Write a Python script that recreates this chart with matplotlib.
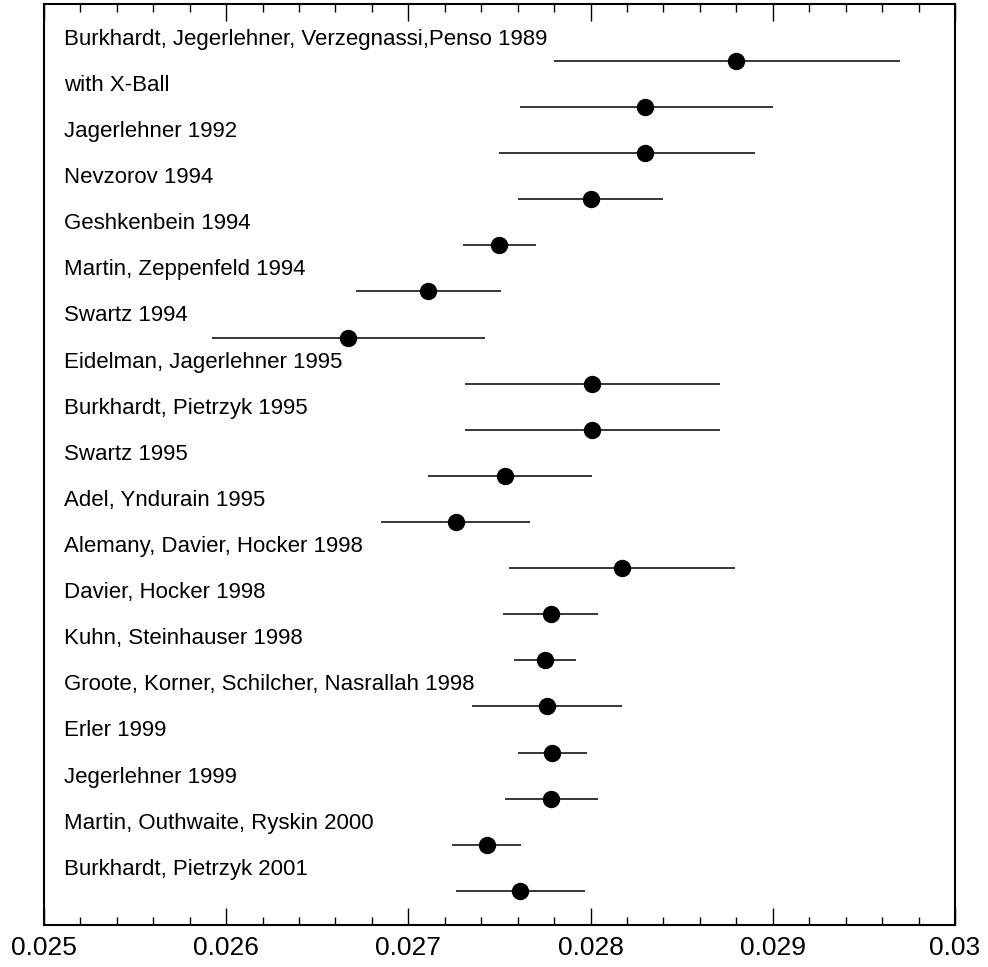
import numpy as np
import matplotlib.pyplot as plt
from matplotlib.ticker import MultipleLocator

plt.rcParams['font.family'] = ['Liberation Sans', 'DejaVu Sans']

labels = ['Burkhardt, Jegerlehner, Verzegnassi,Penso 1989',
          'with X-Ball',
          'Jagerlehner 1992',
          'Nevzorov 1994',
          'Geshkenbein 1994',
          'Martin, Zeppenfeld 1994',
          'Swartz 1994',
          'Eidelman, Jagerlehner 1995',
          'Burkhardt, Pietrzyk 1995',
          'Swartz 1995',
          'Adel, Yndurain 1995',
          'Alemany, Davier, Hocker 1998',
          'Davier, Hocker 1998',
          'Kuhn, Steinhauser 1998',
          'Groote, Korner, Schilcher, Nasrallah 1998',
          'Erler 1999',
          'Jegerlehner 1999',
          'Martin, Outhwaite, Ryskin 2000',
          'Burkhardt, Pietrzyk 2001']

values = [0.02880, 0.02830, 0.02830, 0.02800, 0.02750, 0.02711, 0.02667,
          0.02801, 0.02801, 0.02753, 0.02726, 0.02817, 0.02778, 0.02775,
          0.02776, 0.02779, 0.02778, 0.02743, 0.02761]
err_lo = [0.00100, 0.00069, 0.00080, 0.00040, 0.00020, 0.00040, 0.00075,
          0.00070, 0.00070, 0.00042, 0.00041, 0.00062, 0.00026, 0.00017,
          0.00041, 0.00019, 0.00025, 0.00019, 0.00035]
err_hi = [0.00090, 0.00070, 0.00060, 0.00040, 0.00020, 0.00040, 0.00075,
          0.00070, 0.00070, 0.00048, 0.00041, 0.00062, 0.00026, 0.00017,
          0.00041, 0.00019, 0.00026, 0.00019, 0.00036]

fig = plt.figure(figsize=(9.88, 9.67), dpi=100)
ax = fig.add_axes([0.0445, 0.0434, 0.9221, 0.9525])

y = np.arange(len(values))
ax.errorbar(values, y, xerr=[err_lo, err_hi], fmt='o', color='black',
            markersize=11.5, elinewidth=1.1, capsize=0)

for i, lab in enumerate(labels):
    ax.text(0.02511, i - 0.35, lab, fontsize=16, va='baseline', ha='left')

ax.set_xlim(0.025, 0.030)
ax.set_ylim(18.74, -1.236)
ax.xaxis.set_major_locator(MultipleLocator(0.001))
ax.xaxis.set_minor_locator(MultipleLocator(0.0002))
ax.set_xticks([0.025, 0.026, 0.027, 0.028, 0.029, 0.030])
ax.set_xticklabels(['0.025', '0.026', '0.027', '0.028', '0.029', '0.03'])
ax.tick_params(axis='x', which='major', direction='in', top=True, length=12,
               width=1.0, labelsize=19, pad=8)
ax.tick_params(axis='x', which='minor', direction='in', top=True, length=6,
               width=1.0)
ax.set_yticks([])
for sp in ax.spines.values():
    sp.set_linewidth(1.5)

plt.savefig('out.png', dpi=100)
